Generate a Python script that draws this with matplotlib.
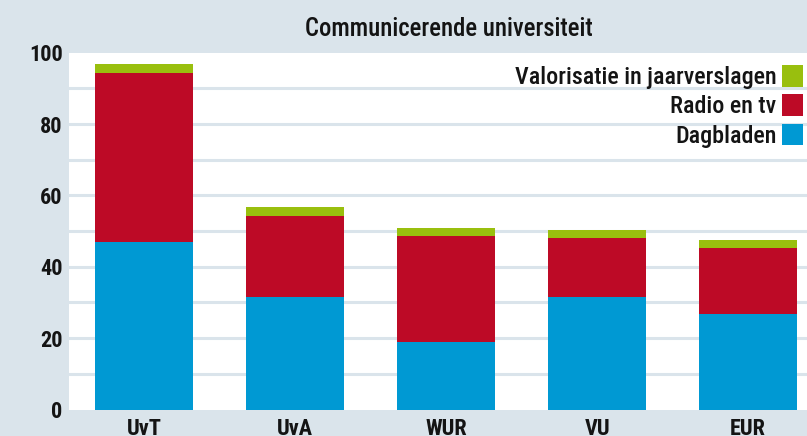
import matplotlib.pyplot as plt
from matplotlib.patches import Patch

universities = ['UvT', 'UvA', 'WUR', 'VU', 'EUR']
dagbladen = [47.0, 31.4, 18.8, 31.4, 26.9]
radio_tv = [47.4, 22.9, 29.8, 16.7, 18.4]
valorisatie = [2.4, 2.4, 2.3, 2.3, 2.3]

series_labels = ['Dagbladen', 'Radio en tv', 'Valorisatie in jaarverslagen']
colors = ['#0099d3', '#bd0a26', '#99bf0e']
title = 'Communicerende universiteit'

bg = '#dae4eb'
ink = '#141414'
plt.rcParams['font.family'] = ['Roboto Condensed', 'Archivo Narrow', 'IBM Plex Sans Condensed', 'DejaVu Sans']

fig = plt.figure(figsize=(8.07, 4.36), dpi=100, facecolor=bg)
ax = fig.add_axes([69 / 807, (436 - 409.5) / 436, 738 / 807, (409.5 - 52.7) / 436])
ax.set_facecolor('white')

x = range(len(universities))
bottom = [0] * len(universities)
for values, color in zip([dagbladen, radio_tv, valorisatie], colors):
    ax.bar(x, values, width=0.65, bottom=bottom, color=color, zorder=3)
    bottom = [b + v for b, v in zip(bottom, values)]

ax.set_xlim(-0.497, 4.39)
ax.set_ylim(0, 99.6)
for y in range(10, 100, 10):
    ax.axhline(y, color=bg, linewidth=2.2, zorder=1)

ax.set_yticks(range(0, 101, 20))
ax.set_xticks(list(x))
ax.set_xticklabels(universities)
ax.tick_params(length=0, labelsize=16, labelcolor=ink)
ax.tick_params(axis='y', pad=4.5)
ax.tick_params(axis='x', pad=6)
for lab in ax.get_xticklabels() + ax.get_yticklabels():
    lab.set_fontweight('bold')
for s in ax.spines.values():
    s.set_visible(False)

handles = [Patch(facecolor=c, edgecolor='none') for c in colors][::-1]
leg = fig.legend(handles, series_labels[::-1], loc='upper right',
                 bbox_to_anchor=(803 / 807, (436 - 65) / 436), bbox_transform=fig.transFigure,
                 frameon=False, markerfirst=False, fontsize=17.3, handlelength=0.88,
                 handleheight=1.0, handletextpad=0.22, labelspacing=0.22,
                 borderpad=0, borderaxespad=0)
for t in leg.get_texts():
    t.set_color(ink)
    t.set_fontweight('medium')

fig.text(449 / 807, (436 - 36) / 436, title, ha='center', va='baseline',
         fontsize=17.7, color=ink, fontweight='medium')

fig.savefig('out.png', dpi=100, facecolor=bg)
